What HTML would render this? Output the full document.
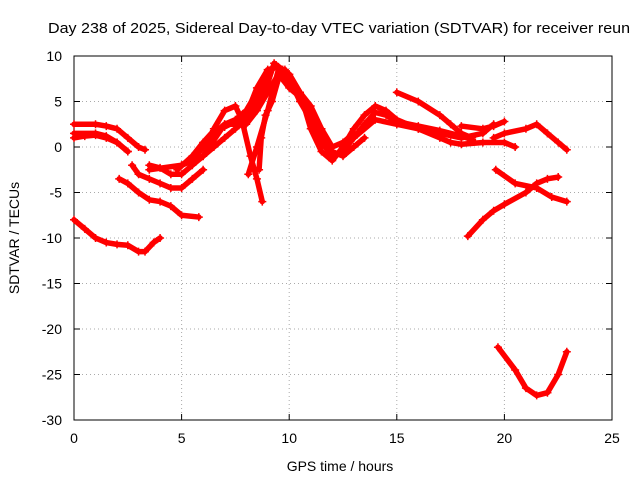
<!DOCTYPE html>
<html><head><meta charset="utf-8"><style>
body{margin:0;background:#fff}
svg{display:block;font-family:"Liberation Sans",sans-serif}
</style></head><body>
<svg id="chart" width="640" height="480">
<text x="48" y="33" font-size="15" textLength="582" lengthAdjust="spacingAndGlyphs">Day 238 of 2025, Sidereal Day-to-day VTEC variation (SDTVAR) for receiver reun</text>
<g id="grid"></g>
<g id="axes"></g>
<g id="series"></g>
<text x="340" y="471" font-size="14" text-anchor="middle">GPS time / hours</text>
<text transform="translate(19,238) rotate(-90)" font-size="14" text-anchor="middle">SDTVAR / TECUs</text>
</svg>
<script>
const xTicks=[0,5,10,15,20,25];
const yTicks=[10,5,0,-5,-10,-15,-20,-25,-30];
const tracks=[
[[0,2.5],[1,2.5],[1.5,2.3],[2,2],[2.5,1],[3,0],[3.3,-0.3]],
[[0,1.5],[1,1.5],[1.5,1.2],[2,0.5],[2.5,-0.5]],
[[0,1],[0.5,1.2],[1,1.3],[1.5,1],[2,0.5],[2.5,-0.5]],
[[0,-8],[0.5,-9],[1,-10],[1.5,-10.5],[2,-10.7],[2.5,-10.8],[3,-11.5],[3.3,-11.5],[3.7,-10.5],[4,-10]],
[[2.1,-3.5],[2.5,-4],[3,-5],[3.5,-5.8],[4,-6],[4.5,-6.5],[5,-7.5],[5.8,-7.7]],
[[2.7,-2],[3,-3],[3.5,-3.5],[4,-4],[4.5,-4.5],[5,-4.5],[5.5,-3.5],[6,-2.5]],
[[3.5,-2],[4,-2.3],[4.5,-3],[5,-3],[5.5,-2],[6,-1],[6.5,0],[7,1],[7.5,2],[8,3],[8.5,5],[9,7],[9.3,9.2],[9.7,8.5],[10,7]],
[[3.5,-2.5],[5,-2],[6,-1],[7,2.5],[8,2.5],[8.5,4],[9,6],[9.5,8],[10,6.5],[10.5,5.5],[11,4],[11.5,1],[12,-0.5],[12.5,-1],[13,0],[13.5,1]],
[[5,-2],[5.5,-1.5],[6,0],[6.5,1.5],[7,2.5],[7.5,3],[8,4],[8.5,6],[9,8],[9.4,9],[10,7.5],[10.5,5],[11,3],[11.5,0.5],[12,-1],[12.5,-0.5],[13,1],[13.5,2.5]],
[[4.8,-2.5],[5.5,-1],[6,0.5],[6.5,1.8],[7,2.2],[7.5,2.8],[8,3.5],[8.5,6.5],[9,8.5],[9.5,8.8],[10,8],[10.5,6],[11,4.5],[11.5,2],[12,0],[12.5,0.5],[13,1.5]],
[[6.5,2],[7,4],[7.5,4.5],[7.8,3],[8.2,-1],[8.5,-3.5],[8.75,-6]],
[[8.6,-2.5],[8.7,1],[8.9,3.5],[9.2,5],[9.5,7.5],[9.8,8.5]],
[[8.1,-3],[8.5,0],[9,4],[9.5,8.5],[10,8],[10.5,6],[11,2],[11.5,-0.5],[12,-1.5],[12.5,0],[13,2],[13.5,3.5],[14,4.5],[14.5,4],[15,3],[16,2],[17,1],[17.5,0.5],[18,0.3],[19,0.5],[20,0.5],[20.5,0]],
[[13,1],[14,3],[15,2.5],[16,2],[17,1.5],[18,1],[19,1.5],[19.5,2.5]],
[[13.5,2.5],[14,3.8],[14.5,3.5],[15,2.8],[16,2.3],[17,1.8],[18,1.2],[18.5,0.8]],
[[15,6],[16,5],[17,3.5],[17.5,2.5],[18,1.5],[18.5,1]],
[[18,2.3],[19,2],[19.5,2.3],[20,2.8]],
[[18.3,-9.8],[19,-8],[19.5,-7],[20,-6.3],[21,-5],[21.5,-4],[22,-3.5],[22.5,-3.3]],
[[19.6,-2.5],[20.5,-4],[21.5,-4.5],[22.2,-5.5],[22.9,-6]],
[[19.5,1],[20,1.5],[21,2],[21.5,2.5],[22,1.5],[22.5,0.5],[22.9,-0.3]],
[[19.7,-22],[20.5,-24.5],[21,-26.5],[21.5,-27.3],[22,-27],[22.5,-25],[22.9,-22.5]]
];
const X0=74,X1=612,Y0=420,Y1=56;
const sx=v=>X0+(v-0)/(25-0)*(X1-X0);
const sy=v=>Y0-(v+30)/(40)*(Y0-Y1);
const NS="http://www.w3.org/2000/svg";
function mk(p,t,a){const e=document.createElementNS(NS,t);for(const k in a)e.setAttribute(k,a[k]);p.appendChild(e);return e;}
const g=document.getElementById('grid'),ax=document.getElementById('axes'),s=document.getElementById('series');
xTicks.forEach(t=>{const x=sx(t);
 if(t>0&&t<25){const l=mk(g,'line',{x1:x,x2:x,y1:Y1,y2:Y0,stroke:'#aaa','stroke-dasharray':'1,3'});}
 mk(ax,'line',{x1:x,x2:x,y1:Y0,y2:Y0-6,stroke:'#000'});mk(ax,'line',{x1:x,x2:x,y1:Y1,y2:Y1+6,stroke:'#000'});
 const tx=mk(ax,'text',{x:x,y:Y0+23,'font-size':14,'text-anchor':'middle'});tx.textContent=t;
 });
yTicks.forEach(t=>{const y=sy(t);
 if(t>-30&&t<10){const l=mk(g,'line',{x1:X0,x2:X1,y1:y,y2:y,stroke:'#aaa','stroke-dasharray':'1,3'});}
 mk(ax,'line',{x1:X0,x2:X0+6,y1:y,y2:y,stroke:'#000'});mk(ax,'line',{x1:X1,x2:X1-6,y1:y,y2:y,stroke:'#000'});
 const tx=mk(ax,'text',{x:X0-12,y:y+5,'font-size':14,'text-anchor':'end'});tx.textContent=t;
 });
mk(ax,'rect',{x:X0,y:Y1,width:X1-X0,height:Y0-Y1,fill:'none',stroke:'#000'});
tracks.forEach((tr,i)=>{
 const pl=mk(s,'polyline',{points:tr.map(p=>sx(p[0])+','+sy(p[1])).join(' '),fill:'none',stroke:'#f00','stroke-width':5.5,'stroke-linejoin':'round','stroke-linecap':'round'});
 
 
 tr.forEach(p=>{const x=sx(p[0]),y=sy(p[1]);
  const m=mk(s,'path',{d:`M${x-4},${y}H${x+4}M${x},${y-4}V${y+4}`,stroke:'#f00','stroke-width':1.5});
  
  });
});
</script>
</body></html>
